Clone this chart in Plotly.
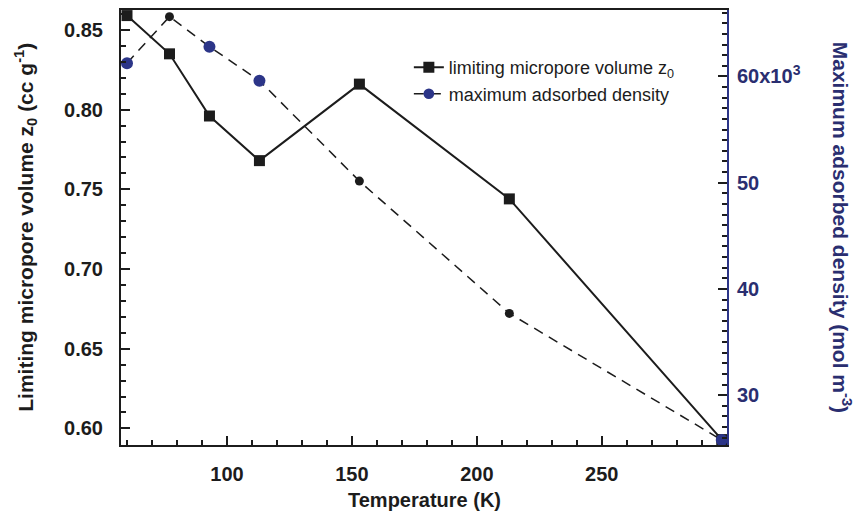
import plotly.graph_objects as go

# Measured data: temperature (K) vs. fitted adsorption parameters
temperature_k = [60, 77, 93, 113, 153, 213, 298]
micropore_volume = [0.859, 0.835, 0.796, 0.768, 0.816, 0.744, 0.593]          # cc g^-1
max_adsorbed_density = [61250, 65625, 62800, 59600, 50150, 37700, 25780]       # mol m^-3

x_tick_values = [100, 150, 200, 250]
left_tick_values = [0.60, 0.65, 0.70, 0.75, 0.80, 0.85]
left_tick_labels = ["0.60", "0.65", "0.70", "0.75", "0.80", "0.85"]
right_tick_values = [30000, 40000, 50000, 60000]
right_tick_labels = ["30", "40", "50", "60x10<sup>3</sup>"]

# Styling
BLACK = "#1c1c1c"
NAVY = "#2c3588"
NAVY_TEXT = "#2a2e70"
FONT = "Liberation Sans"
density_marker_colors = [NAVY, BLACK, NAVY, NAVY, BLACK, BLACK, NAVY]
density_marker_sizes = [12, 9, 12, 12, 9, 9, 12]

fig = go.Figure()

fig.add_trace(go.Scatter(
    x=temperature_k, y=micropore_volume,
    mode="lines+markers",
    name="limiting micropore volume z<sub>0</sub>",
    line=dict(color=BLACK, width=2),
    marker=dict(symbol="square", size=11, color=BLACK, opacity=1, line=dict(width=0)),
    cliponaxis=False,
))

fig.add_trace(go.Scatter(
    x=temperature_k, y=max_adsorbed_density,
    mode="lines+markers",
    name="maximum adsorbed density",
    yaxis="y2",
    line=dict(color=BLACK, width=1.5, dash="10px,7px"),
    marker=dict(symbol="circle", size=density_marker_sizes, color=density_marker_colors,
                opacity=1, line=dict(width=0)),
    cliponaxis=False,
))

tick_font = dict(family=FONT, size=20, color=BLACK, weight="bold")

fig.update_layout(
    width=859, height=516, autosize=False,
    margin=dict(l=121, r=132, t=8, b=71),
    paper_bgcolor="white", plot_bgcolor="white",
    font=dict(family=FONT, color=BLACK),
    showlegend=True,
    legend=dict(
        x=0.475, y=0.91, xanchor="left", yanchor="top",
        bgcolor="rgba(0,0,0,0)",
        font=dict(family=FONT, size=18, color=BLACK),
        tracegroupgap=0,
    ),
    xaxis=dict(
        range=[57.6, 300.1],
        showgrid=False, zeroline=False,
        showline=True, linecolor=BLACK, linewidth=2, mirror=True,
        ticks="inside", ticklen=9, tickwidth=1.5, tickcolor=BLACK,
        tickvals=x_tick_values,
        tickfont=tick_font,
        ticklabelstandoff=10,
        minor=dict(dtick=10, ticks="inside", ticklen=5, tickwidth=1.5, tickcolor=BLACK),
    ),
    yaxis=dict(
        range=[0.5896, 0.8625],
        showgrid=False, zeroline=False,
        showline=True, linecolor=BLACK, linewidth=2,
        ticks="inside", ticklen=9, tickwidth=1.5, tickcolor=BLACK,
        tickvals=left_tick_values, ticktext=left_tick_labels,
        tickfont=tick_font,
        ticklabelstandoff=12,
        minor=dict(dtick=0.01, ticks="inside", ticklen=5, tickwidth=1.5, tickcolor=BLACK),
    ),
    yaxis2=dict(
        range=[25312, 66253],
        overlaying="y", side="right",
        showgrid=False, zeroline=False,
        showline=True, linecolor=NAVY, linewidth=2,
        ticks="inside", ticklen=9, tickwidth=1.5, tickcolor=BLACK,
        tickvals=right_tick_values, ticktext=right_tick_labels,
        tickfont=dict(family=FONT, size=20, color=NAVY_TEXT, weight="bold"),
        ticklabelstandoff=4,
        minor=dict(dtick=1000, ticks="inside", ticklen=5, tickwidth=1.5, tickcolor=BLACK),
    ),
    annotations=[
        dict(
            text="Limiting micropore volume z<sub>0</sub> (cc g<sup>-1</sup>)",
            xref="paper", yref="paper", x=-0.158, y=0.5,
            xanchor="center", yanchor="middle", textangle=-90, showarrow=False,
            font=dict(family=FONT, size=21, color=BLACK, weight="bold"),
        ),
        dict(
            text="Maximum adsorbed density (mol m<sup>-3</sup>)",
            xref="paper", yref="paper", x=1.191, y=0.5,
            xanchor="center", yanchor="middle", textangle=90, showarrow=False,
            font=dict(family=FONT, size=21, color=NAVY_TEXT, weight="bold"),
        ),
        dict(
            text="Temperature (K)",
            xref="paper", yref="paper", x=0.5, y=-0.126,
            xanchor="center", yanchor="middle", showarrow=False,
            font=dict(family=FONT, size=20, color=BLACK, weight="bold"),
        ),
    ],
)

fig.write_html("out.html")
